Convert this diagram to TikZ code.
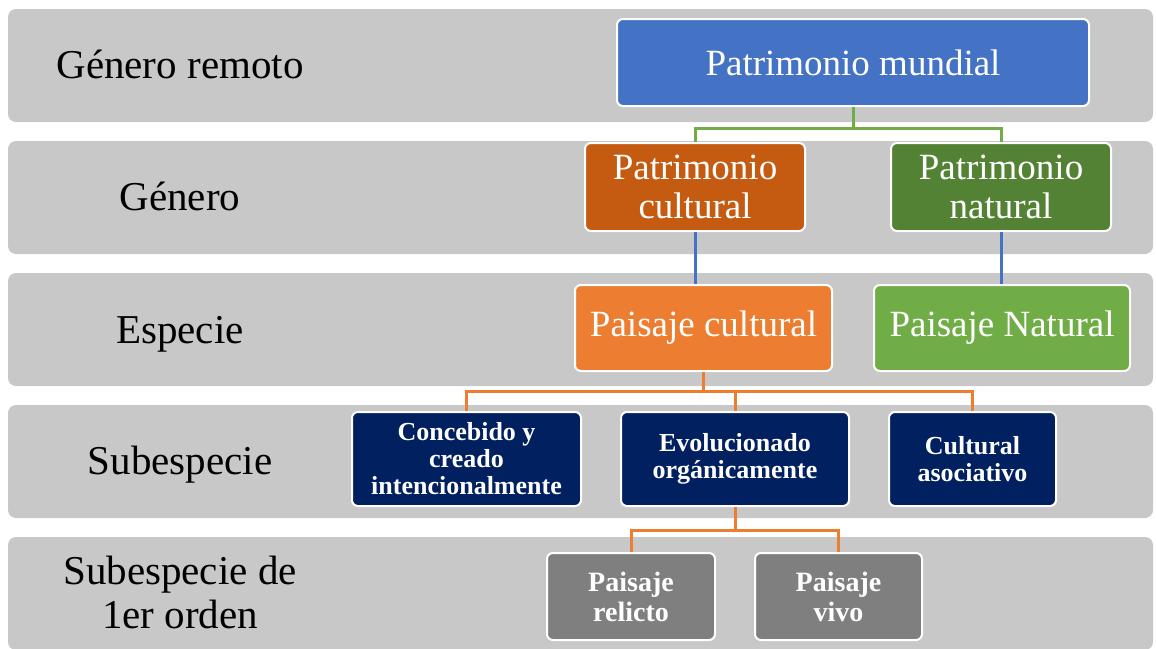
\documentclass[tikz,border=0pt]{standalone}
\usepackage{fontspec}
\setmainfont{Liberation Serif}
\definecolor{banda}{HTML}{C8C8C8}
\definecolor{azul}{HTML}{4472C4}
\definecolor{ladrillo}{HTML}{C55A11}
\definecolor{verdeosc}{HTML}{548235}
\definecolor{naranja}{HTML}{ED7D31}
\definecolor{verde}{HTML}{70AD47}
\definecolor{marino}{HTML}{002060}
\definecolor{gris}{HTML}{7F7F7F}
\tikzset{
  caja/.style={draw=white, line width=2pt, rounded corners=6pt, text=white,
    align=center, inner sep=0pt},
  grande/.style={caja, font=\fontsize{37}{39}\selectfont},
  chica/.style={caja, font=\fontsize{26}{27}\selectfont\bfseries},
  gchica/.style={caja, font=\fontsize{28}{30}\selectfont\bfseries},
  nivel/.style={font=\fontsize{41}{44}\selectfont, align=center, anchor=base},
  linea/.style={line width=3pt}
}
\begin{document}
\begin{tikzpicture}[x=1pt,y=-1pt]
\useasboundingbox (0,0) rectangle (1156,648);
\clip (0,0) rectangle (1156,648);
% bandas
\foreach \y in {9,141,273,405,537}
  \fill[banda, rounded corners=8pt] (8,\y) rectangle (1153,\y+113);
% niveles
\node[nivel] (n1) at (180,78) {Género remoto};
\node[nivel] (n2) at (180,210) {Género};
\node[nivel] (n3) at (180,343) {Especie};
\node[nivel] (n4) at (180,474) {Subespecie};
\node[nivel] (n5) at (180,628) {Subespecie de\\1er orden};
% cajas
\node[grande, fill=azul, minimum width=472, minimum height=87] (mundial) at (853,62.5) {Patrimonio mundial};
\node[grande, fill=ladrillo, minimum width=220, minimum height=88] (pcult) at (695,187) {Patrimonio\\cultural};
\node[grande, fill=verdeosc, minimum width=220, minimum height=88] (pnat) at (1001,187) {Patrimonio\\natural};
\node[grande, fill=naranja, minimum width=257, minimum height=86] (paicult) at (703.5,328) {Paisaje cultural};
\node[grande, fill=verde, minimum width=256, minimum height=86] (painat) at (1002,328) {Paisaje Natural};
\node[chica, fill=marino, minimum width=229, minimum height=94] (concebido) at (466.5,459) {Concebido y\\creado\\intencionalmente};
\node[chica, fill=marino, minimum width=228, minimum height=94] (evol) at (735,459) {Evolucionado\\orgánicamente};
\node[chica, fill=marino, minimum width=167, minimum height=94] (asoc) at (972.5,459) {Cultural\\asociativo};
\node[gchica, fill=gris, minimum width=168, minimum height=87] (relicto) at (631,596.5) {Paisaje\\relicto};
\node[gchica, fill=gris, minimum width=167, minimum height=87] (vivo) at (838.5,596.5) {Paisaje\\vivo};
% conectores
\coordinate (g1) at (853,128);
\draw[linea, verde] (mundial.south) -- (g1);
\draw[linea, verde] (pcult.north) |- (g1) -| (pnat.north);
\draw[linea, azul] (pcult.south) -- (pcult.south |- paicult.north);
\draw[linea, azul] (pnat.south) -- (pnat.south |- painat.north);
\coordinate (o1) at (703.5,391);
\draw[linea, naranja] (paicult.south) -- (o1);
\draw[linea, naranja] (concebido.north) |- (o1) -| (asoc.north);
\draw[linea, naranja] (evol.north) -- (evol.north |- o1);
\coordinate (o2) at (735,530);
\draw[linea, naranja] (evol.south) -- (o2);
\draw[linea, naranja] (relicto.north) |- (o2) -| (vivo.north);
\end{tikzpicture}
\end{document}
